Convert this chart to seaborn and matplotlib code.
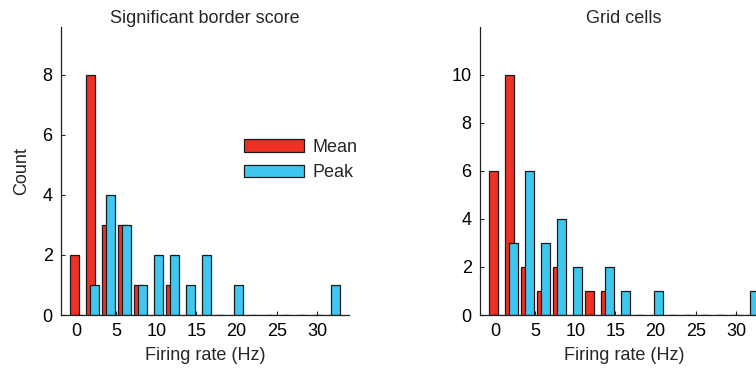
import numpy as np
import pandas as pd
import matplotlib
matplotlib.use("Agg")
import matplotlib.pyplot as plt
import seaborn as sns

# Histogram bin centres (Hz) shared by both panels
bin_centers = list(range(0, 34, 2))

# Significant border score cells
border_mean = [2, 8, 3, 3, 1, 0, 1, 0, 0, 0, 0, 0, 0, 0, 0, 0, 0]
border_peak = [0, 1, 4, 3, 1, 2, 2, 1, 2, 0, 1, 0, 0, 0, 0, 0, 1]

# Grid cells
grid_mean = [6, 10, 2, 1, 2, 0, 1, 1, 0, 0, 0, 0, 0, 0, 0, 0, 0]
grid_peak = [0, 3, 6, 3, 4, 2, 0, 2, 1, 0, 1, 0, 0, 0, 0, 0, 1]

panel_titles = ["Significant border score", "Grid cells"]
series_labels = ["Mean", "Peak"]
x_ticks = [0, 5, 10, 15, 20, 25, 30]

RED = "#EE3124"
BLUE = "#3EC7F0"
EDGE = "#1a1a1a"
FS = 13

sns.set_theme(style="ticks")
plt.rcParams["font.family"] = ["Liberation Sans", "DejaVu Sans"]
plt.rcParams["font.size"] = FS

fig = plt.figure(figsize=(7.56, 3.72), dpi=100)
ax_left = fig.add_axes([0.0807, 0.1532, 0.381, 0.7755])
ax_right = fig.add_axes([0.635, 0.1532, 0.381, 0.7755])


def draw_panel(ax, mean_counts, peak_counts, title, ymax, yticks):
    centers = np.array(bin_centers, dtype=float)
    df_mean = pd.DataFrame({"rate": centers - 0.22, "count": mean_counts})
    df_peak = pd.DataFrame({"rate": centers + 0.30, "count": peak_counts})
    sns.barplot(data=df_mean, x="rate", y="count", native_scale=True,
                width=0.56, color=RED, saturation=1, edgecolor=EDGE,
                linewidth=0.9, errorbar=None, label=series_labels[0], ax=ax)
    sns.barplot(data=df_peak, x="rate", y="count", native_scale=True,
                width=0.56, color=BLUE, saturation=1, edgecolor=EDGE,
                linewidth=0.9, errorbar=None, label=series_labels[1], ax=ax)
    ax.set_xlim(-1.85, 34.0)
    ax.set_ylim(0, ymax)
    ax.set_xticks(x_ticks)
    ax.set_xticklabels([str(t) for t in x_ticks])
    ax.set_yticks(yticks)
    ax.set_yticklabels([str(t) for t in yticks])
    ax.set_xlabel("Firing rate (Hz)", fontsize=FS, labelpad=5)
    ax.set_ylabel("")
    ax.set_title(title, fontsize=FS, pad=-2.5)
    ax.tick_params(direction="in", length=3, width=0.8, pad=6,
                   labelsize=FS, colors="#222222", labelcolor="black")
    for side in ("top", "right"):
        ax.spines[side].set_visible(False)
    for side in ("left", "bottom"):
        ax.spines[side].set_linewidth(0.9)
        ax.spines[side].set_color("#222222")
    if ax.get_legend() is not None:
        ax.get_legend().remove()


draw_panel(ax_left, border_mean, border_peak, panel_titles[0], 9.6, [0, 2, 4, 6, 8])
draw_panel(ax_right, grid_mean, grid_peak, panel_titles[1], 12, [0, 2, 4, 6, 8, 10])

ax_left.set_ylabel("Count", fontsize=FS, labelpad=9)

handles, labels = ax_left.get_legend_handles_labels()
ax_left.legend(handles[:2], labels[:2], loc="upper left",
               bbox_to_anchor=(0.635, 0.61), frameon=False,
               borderaxespad=0, borderpad=0, handlelength=3.35,
               handleheight=0.7, handletextpad=0.45, labelspacing=0.45,
               fontsize=FS)

fig.savefig("out.png", dpi=100)
